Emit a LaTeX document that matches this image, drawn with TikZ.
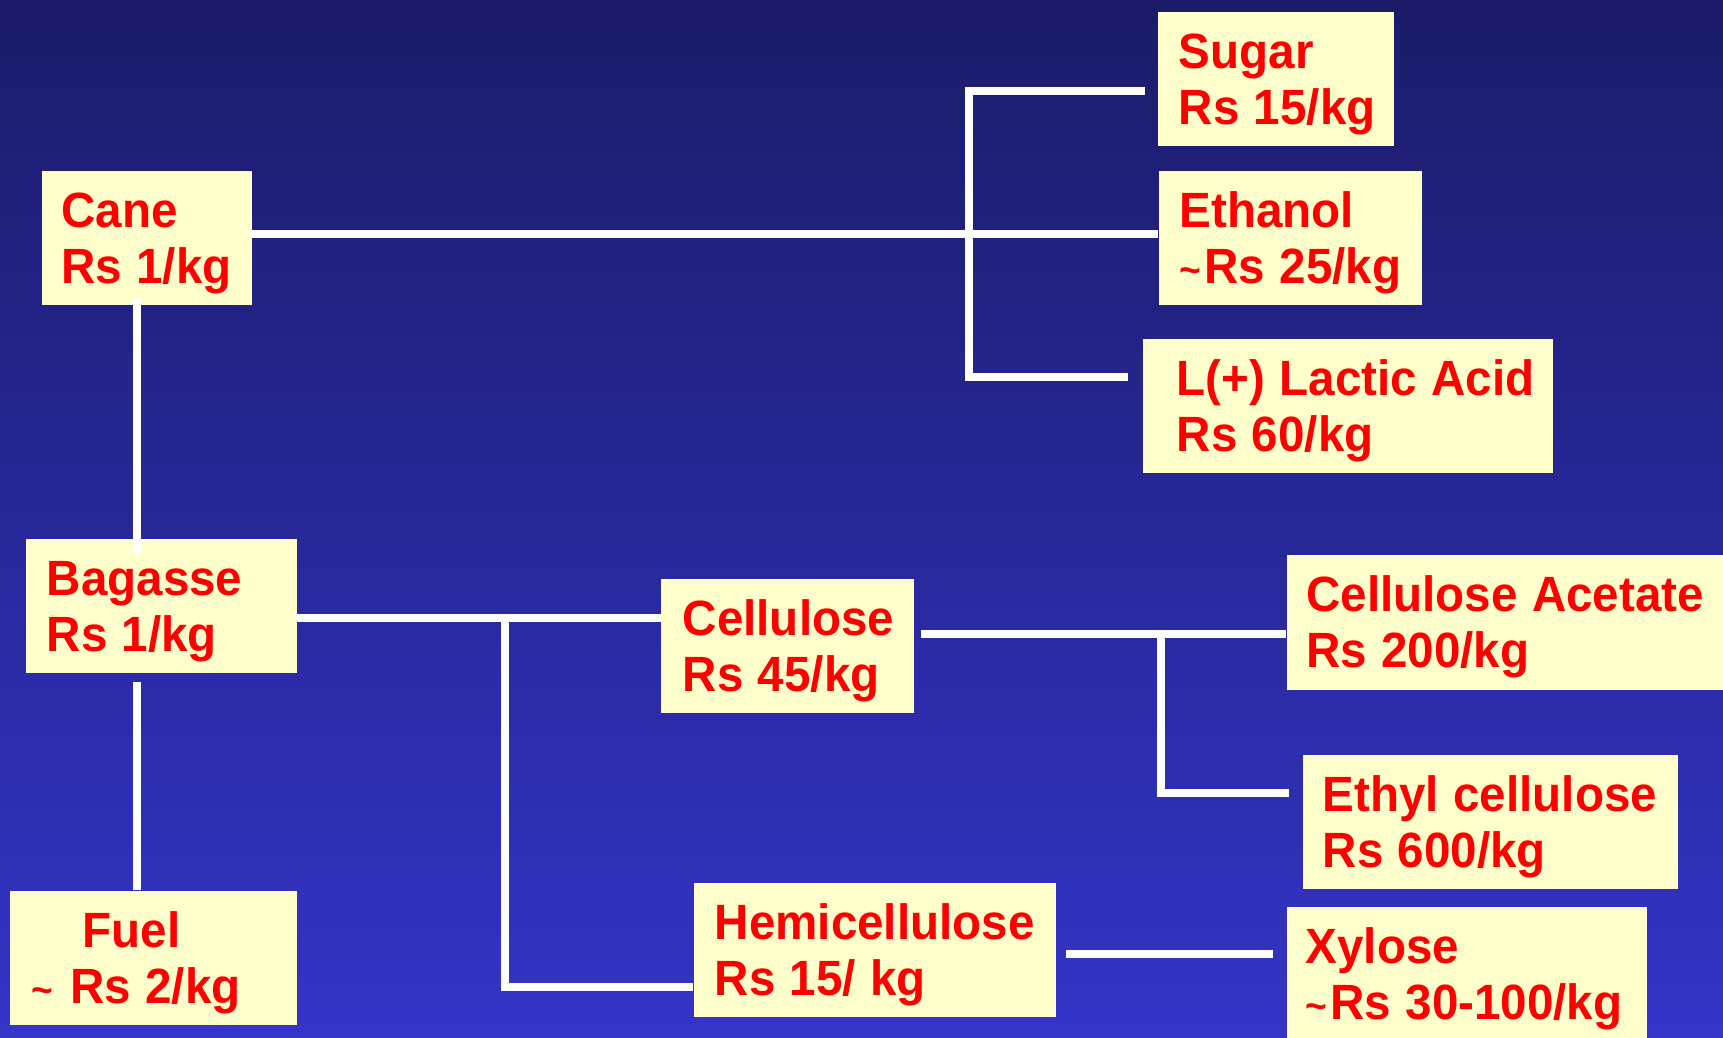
\documentclass[tikz,border=0pt]{standalone}
\usepackage{fontspec}
\newfontfamily\boxfont{Liberation Sans}[FakeStretch=0.96]
\definecolor{bgtop}{RGB}{27,27,105}
\definecolor{bgbot}{RGB}{52,52,200}
\definecolor{boxyellow}{RGB}{255,255,204}
\definecolor{boxred}{RGB}{255,0,0}
\newcommand{\smtil}{{\fontsize{11}{11}\selectfont\textasciitilde}}
\newcommand{\bx}[1]{\mbox{\spaceskip=0.29em\relax #1}}
\begin{document}
\begin{tikzpicture}[x=0.1mm,y=-0.1mm,
  box/.style={fill=boxyellow, rectangle, anchor=north west, inner xsep=0pt, inner ysep=0pt,
    minimum height=13.4mm, text height=5.7mm, text depth=7.7mm, align=left,
    font={\boxfont\bfseries\fontsize{14.1}{15.9}\selectfont}, text=boxred},
  wire/.style={draw=white, line width=0.8mm}]
\useasboundingbox (0,0) rectangle (1723,1037);
\shade[top color=bgtop, bottom color=bgbot] (0,0) rectangle (1723,1037);

% boxes
\node[box, minimum width=23.6mm, text width=19.4mm] (sugar) at (1157,11) {\bx{Sugar}\\\bx{Rs 15/kg}};
\node[box, minimum width=26.3mm, text width=22.1mm] (ethanol) at (1158,170) {\bx{Ethanol}\\\bx{\smtil\hspace{0.3mm}Rs 25/kg}};
\node[box, minimum width=41.0mm, text width=34.2mm] (lactic) at (1142,338) {\bx{L(+) Lactic Acid}\\\bx{Rs 60/kg}};
\node[box, minimum width=21.0mm, text width=17.1mm] (cane) at (41,170) {\bx{Cane}\\\bx{Rs 1/kg}};
\node[box, minimum width=27.1mm, text width=22.9mm] (bagasse) at (25,538) {\bx{Bagasse}\\\bx{Rs 1/kg}};
\node[box, minimum width=25.3mm, text width=20.9mm] (cellulose) at (660,578) {\bx{Cellulose}\\\bx{Rs 45/kg}};
\node[box, minimum width=44.0mm, text width=40.1mm, minimum height=13.5mm, text depth=7.8mm] (acetate) at (1286,554) {\bx{Cellulose Acetate}\\\bx{Rs 200/kg}};
\node[box, minimum width=37.5mm, text width=33.5mm] (ethyl) at (1302,754) {\bx{Ethyl cellulose}\\\bx{Rs 600/kg}};
\node[box, minimum width=36.2mm, text width=32.0mm] (hemi) at (693,882) {\bx{Hemicellulose}\\\bx{Rs 15/ kg}};
\node[box, minimum width=36.0mm, text width=32.2mm, minimum height=14.0mm, text depth=8.3mm] (xylose) at (1286,906) {\bx{Xylose}\\\bx{\smtil\hspace{0.3mm}Rs 30-100/kg}};
\node[box, minimum width=28.7mm, text width=24.3mm] (fuel) at (9,890) {\bx{\hspace{5.1mm}Fuel}\\\bx{\smtil\hspace{1.7mm}Rs 2/kg}};

% connector end points
\coordinate (caneR) at (250,234);
\coordinate (ethL) at (1158,234);
\coordinate (trunkX) at (969,0);
\coordinate (sugL) at (1145,91);
\coordinate (lacL) at (1128,377);
\coordinate (caneB) at (137,298);
\coordinate (bagT) at (137,553);
\coordinate (bagB) at (137,682);
\coordinate (fuelT) at (137,890);
\coordinate (bagR) at (296,618);
\coordinate (celL) at (661,618);
\coordinate (branchX) at (505,0);
\coordinate (hemiL) at (693,987);
\coordinate (celR) at (921,634);
\coordinate (aceL) at (1286,634);
\coordinate (branch2X) at (1161,0);
\coordinate (ethylL) at (1289,793);
\coordinate (hemiR) at (1066,954);
\coordinate (xylL) at (1273,954);

% connectors
\draw[wire] (caneR) -- (ethL);
\draw[wire] (sugL) -- (sugL -| trunkX) -- (lacL -| trunkX) -- (lacL);
\draw[wire] (caneB) -- (bagT);
\draw[wire] (bagB) -- (fuelT);
\draw[wire] (bagR) -- (celL);
\draw[wire] (celL -| branchX) -- (hemiL -| branchX) -- (hemiL);
\draw[wire] (celR) -- (aceL);
\draw[wire] (aceL -| branch2X) -- (ethylL -| branch2X) -- (ethylL);
\draw[wire] (hemiR) -- (xylL);
\end{tikzpicture}
\end{document}
